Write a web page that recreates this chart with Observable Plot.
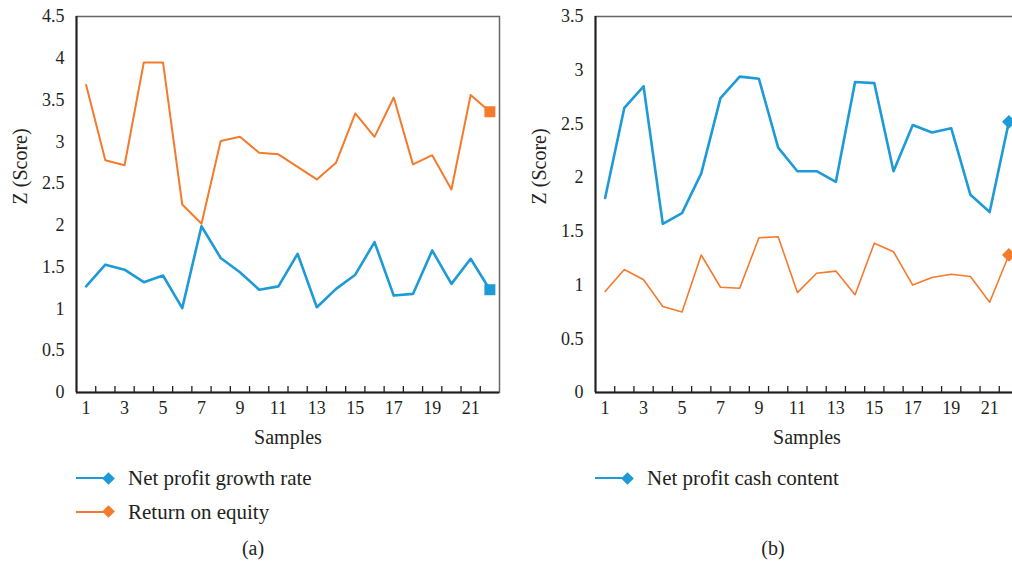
<!DOCTYPE html>
<html><head><meta charset="utf-8">
<script src="https://cdn.jsdelivr.net/npm/d3@7"></script>
<script src="https://cdn.jsdelivr.net/npm/@observablehq/plot@0.6"></script>
<style>
html,body{margin:0;padding:0;background:#fff;overflow:hidden;width:1012px;height:563px;}
#root{position:relative;width:1012px;height:563px;overflow:hidden;font-family:"Liberation Serif","DejaVu Serif",serif;color:#231f20;}
.panel{position:absolute;top:0;width:510px;height:455px;}
.panel svg{overflow:visible;max-width:none !important;}
.abs{position:absolute;}
.ltext{position:absolute;font-size:21px;line-height:21px;white-space:nowrap;transform:translateY(-50%);}
.cap{position:absolute;font-size:20px;line-height:20px;white-space:nowrap;transform:translate(-50%,-50%);}
</style>
</head><body><div id="root"></div>
<script>
// ---- data ----
const samples = [1,2,3,4,5,6,7,8,9,10,11,12,13,14,15,16,17,18,19,20,21,22];
const xTickLabels = [1,3,5,7,9,11,13,15,17,19,21];
const xTickMarks = [1.5,2.5,3.5,4.5,5.5,6.5,7.5,8.5,9.5,10.5,11.5,12.5,13.5,14.5,15.5,16.5,17.5,18.5,19.5,20.5,21.5];
const yTicksA = [0,0.5,1,1.5,2,2.5,3,3.5,4,4.5];
const yTicksB = [0,0.5,1,1.5,2,2.5,3,3.5];
// panel (a)
const netProfitGrowthRate = [1.27,1.53,1.47,1.32,1.40,1.01,1.99,1.61,1.44,1.23,1.27,1.66,1.02,1.24,1.41,1.80,1.16,1.18,1.70,1.30,1.60,1.23];
const returnOnEquity = [3.68,2.78,2.72,3.95,3.95,2.25,2.02,3.01,3.06,2.87,2.85,2.70,2.55,2.75,3.34,3.06,3.53,2.73,2.84,2.43,3.56,3.36];
// panel (b)
const netProfitCashContent = [1.81,2.65,2.85,1.57,1.67,2.04,2.74,2.94,2.92,2.28,2.06,2.06,1.96,2.89,2.88,2.06,2.49,2.42,2.46,1.84,1.68,2.52];
const panelBSecond = [0.94,1.145,1.05,0.80,0.75,1.28,0.98,0.97,1.44,1.45,0.93,1.11,1.13,0.91,1.39,1.31,1.00,1.07,1.10,1.08,0.84,1.28];

const BLUE = "#1e9ad6", ORANGE = "#f47a2c", INK = "#231f20";
const FONT = "Liberation Serif, DejaVu Serif, serif";

function rows(vals){ return samples.map((s,i)=>({sample:s, value:vals[i]})); }

function panel({yMax, yTicks, series, symbol}) {
  const marks = [
    Plot.frame({stroke:"#666", strokeWidth:1.5}),
    Plot.ruleX([0.5], {stroke:INK, strokeWidth:2}),
    Plot.ruleY([0], {stroke:INK, strokeWidth:2}),
    Plot.axisY({ticks:yTicks, tickSize:0, tickPadding:12, tickFormat:d=>String(d), label:null, fontSize:18, fill:INK}),
    Plot.axisX({ticks:xTickLabels, tickSize:0, tickPadding:9, tickFormat:d=>String(d), label:null, fontSize:18, fill:INK}),
    Plot.axisX({ticks:xTickMarks, tickSize:6, dy:-6, tickFormat:()=>"", label:null, stroke:INK, strokeWidth:1.3}),
    Plot.text(["Z (Score)"], {frameAnchor:"left", rotate:-90, dx:-56, fontSize:20, fill:INK}),
    Plot.text(["Samples"], {frameAnchor:"bottom", dy:51, fontSize:20, fill:INK})
  ];
  for (const s of series) {
    const data = rows(s.values);
    marks.push(Plot.line(data, {x:"sample", y:"value", stroke:s.color, strokeWidth:s.width}));
    marks.push(Plot.dot(data.slice(-1), {x:"sample", y:"value", symbol, r:6.2, fill:s.color, stroke:null}));
  }
  return Plot.plot({
    width:510, height:455,
    marginLeft:76, marginRight:11, marginTop:16, marginBottom:63,
    style:{fontFamily:FONT, fontSize:"18px", color:INK, background:"transparent", overflow:"visible", maxWidth:"none"},
    x:{domain:[0.5,22.5]},
    y:{domain:[0,yMax]},
    marks
  });
}

const root = document.getElementById("root");
function place(node, left){ const d=document.createElement("div"); d.className="panel"; d.style.left=left+"px"; d.appendChild(node); root.appendChild(d); }

place(panel({yMax:4.5, yTicks:yTicksA, symbol:"square", series:[
  {values:returnOnEquity, color:ORANGE, width:2.0},
  {values:netProfitGrowthRate, color:BLUE, width:2.6}
]}), 0);
place(panel({yMax:3.5, yTicks:yTicksB, symbol:"diamond2", series:[
  {values:netProfitCashContent, color:BLUE, width:2.6},
  {values:panelBSecond, color:ORANGE, width:1.6}
]}), 519);

// ---- legends & captions ----
function legendItem(x, y, color, label){
  const line=document.createElement("div"); line.className="abs";
  Object.assign(line.style,{left:x+"px",top:(y-1)+"px",width:"32px",height:"2px",background:color});
  const dia=document.createElement("div"); dia.className="abs";
  Object.assign(dia.style,{left:(x+32-4.5)+"px",top:(y-4.5)+"px",width:"9px",height:"9px",background:color,transform:"rotate(45deg)"});
  const t=document.createElement("div"); t.className="ltext"; t.textContent=label;
  Object.assign(t.style,{left:(x+52)+"px",top:y+"px"});
  root.append(line,dia,t);
}
legendItem(76,478,BLUE,"Net profit growth rate");
legendItem(76,511.5,ORANGE,"Return on equity");
legendItem(595,478,BLUE,"Net profit cash content");
function caption(x,y,label){ const c=document.createElement("div"); c.className="cap"; c.textContent=label; Object.assign(c.style,{left:x+"px",top:y+"px"}); root.appendChild(c); }
caption(253,548,"(a)");
caption(773,548,"(b)");
</script>
</body></html>
